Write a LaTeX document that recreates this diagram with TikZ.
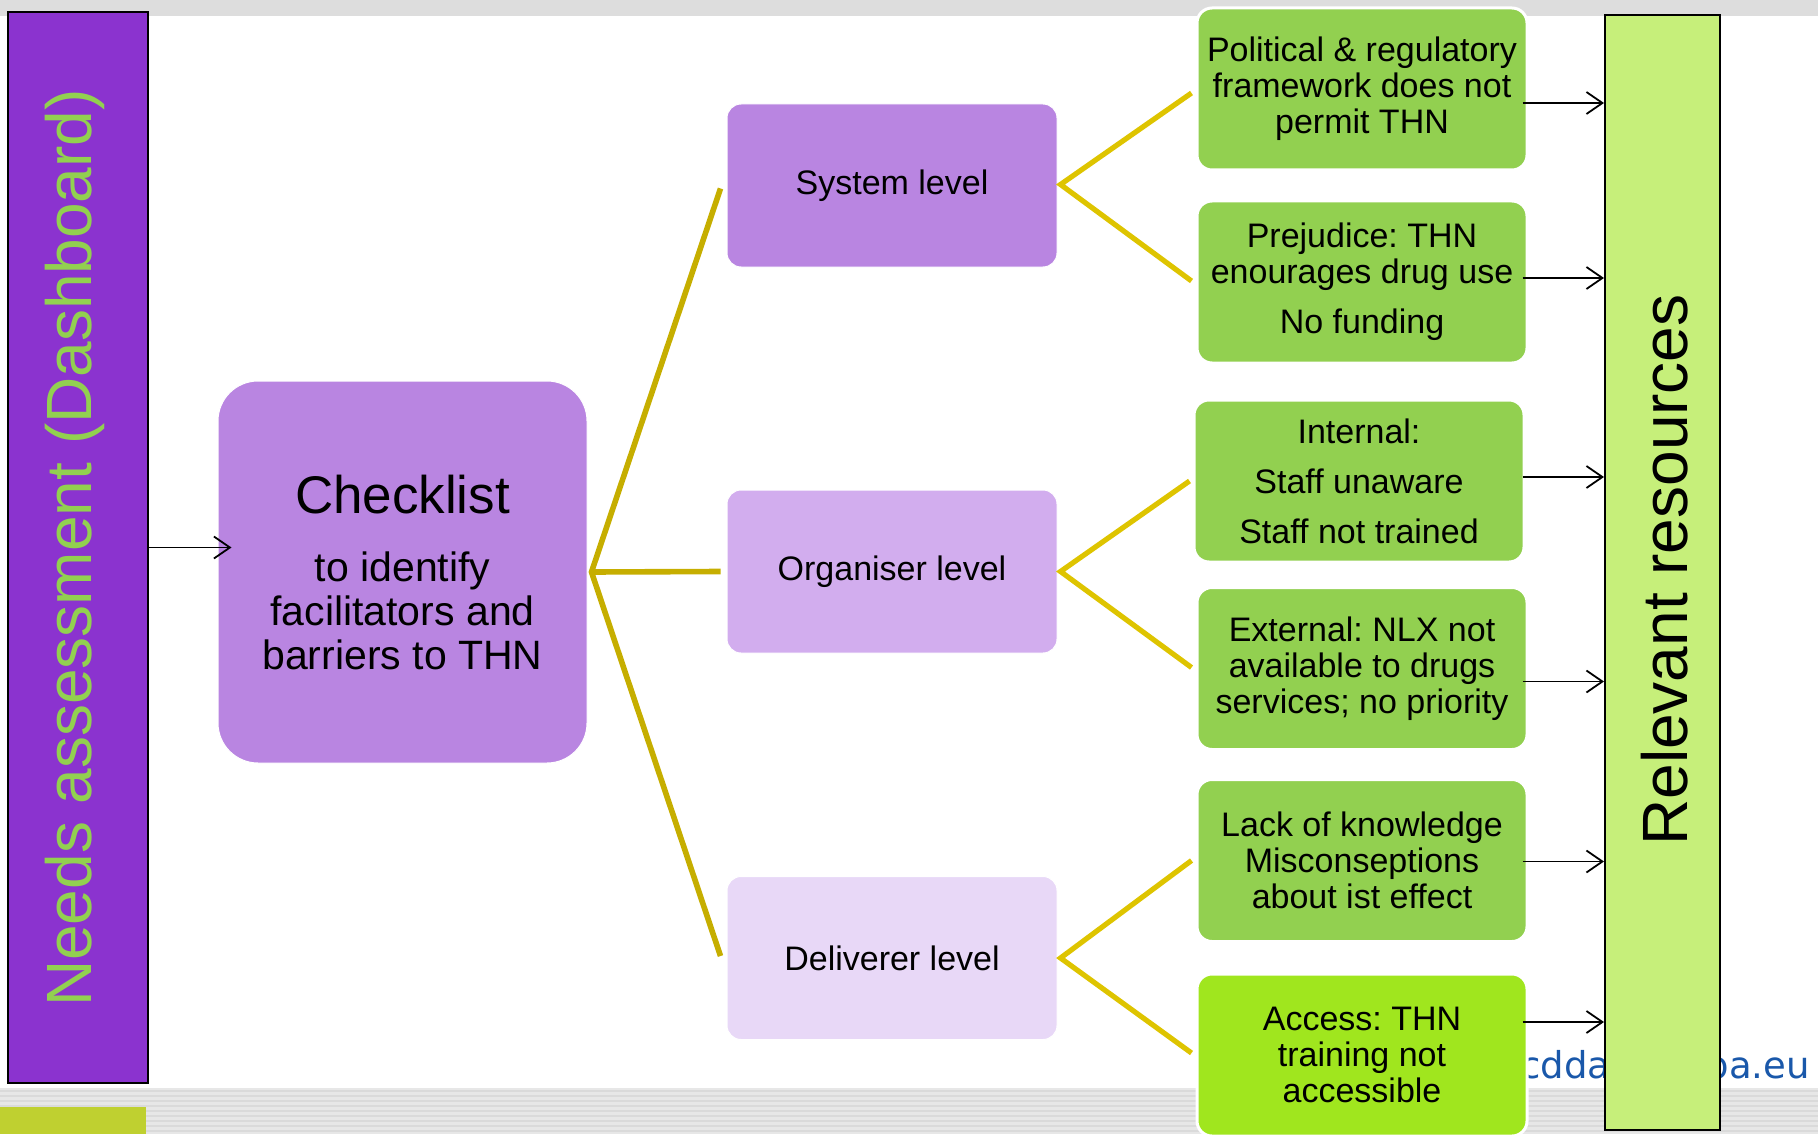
\documentclass[tikz,border=0pt]{standalone}
\usepackage{fontspec}
\setmainfont{Liberation Sans}
\newfontfamily\webfont{DejaVu Sans}
\usetikzlibrary{arrows.meta,calc}

\definecolor{barpurple}{HTML}{8B33CF}
\definecolor{needgreen}{HTML}{92D050}
\definecolor{lvA}{HTML}{B985E1}
\definecolor{lvB}{HTML}{D2ADEE}
\definecolor{lvC}{HTML}{E8D8F7}
\definecolor{boxgreen}{HTML}{92D050}
\definecolor{brightgreen}{HTML}{A0E61E}
\definecolor{resgreen}{HTML}{C6EF7A}
\definecolor{olivetree}{HTML}{C6AE00}
\definecolor{goldtree}{HTML}{DEC400}
\definecolor{webblue}{HTML}{1A58AA}
\definecolor{stripgrey}{HTML}{DDDDDD}
\definecolor{stripA}{HTML}{E7E7E7}
\definecolor{stripB}{HTML}{DADADA}
\definecolor{footyellow}{HTML}{BFD030}
\frenchspacing

\begin{document}
\begin{tikzpicture}[x=0.5pt,y=-0.5pt,
  lvbox/.style={rounded corners=7pt, minimum width=165pt, minimum height=81.5pt,
    draw=white, line width=0.5pt, font=\fontsize{17}{18}\selectfont, inner sep=0pt, align=center},
  gbox/.style={rounded corners=7.5pt, minimum width=165pt, minimum height=81pt,
    fill=boxgreen, draw=white, line width=1.5pt, font=\fontsize{17}{18}\selectfont,
    align=center, inner sep=0pt},
  bar/.style={draw=black, line width=1pt, inner sep=0pt},
  tree/.style={line width=2.8pt, olivetree, line join=miter},
  treeR/.style={line width=2.6pt, goldtree, line join=miter},
  arr/.style={-{Straight Barb[length=8pt,width=11pt]}, line width=0.9pt},
]
\useasboundingbox (0,0) rectangle (1818,1134);
\clip (0,0) rectangle (1818,1134);

% background strips
\fill[stripgrey] (0,0) rectangle (1818,16);
\fill[stripA] (0,1088) rectangle (1818,1134);
\foreach \yy in {1091,1096,...,1134} \draw[stripB, line width=1pt] (0,\yy) -- (1818,\yy);
\fill[footyellow] (0,1107) rectangle (146,1134);

% web address (partly hidden)
\node[anchor=base east, inner sep=0pt, font=\fontsize{18.5}{20}\webfont, text=webblue] (web) at (1810,1078) {www.emcdda.europa.eu};

% side bars
\node[bar, fill=barpurple, minimum width=70pt, minimum height=535.5pt] (needs) at (78,547.5) {};
\node[rotate=90, anchor=base, text=needgreen, font=\fontsize{32}{36}\selectfont, inner sep=0pt] (needstxt) at (91,548) {Needs assessment (Dashboard)};

\node[bar, fill=resgreen, minimum width=57.5pt, minimum height=557.5pt] (res) at (1662.5,572.5) {};
\node[rotate=90, anchor=base, font=\fontsize{32}{36}\selectfont, inner sep=0pt] (restxt) at (1687,570) {Relevant resources};

% checklist
\node[fill=lvA, draw=white, line width=0.5pt, rounded corners=20pt, minimum width=184.5pt,
  minimum height=191pt, inner sep=0pt, align=center, font=\fontsize{20.5}{22}\selectfont]
  (chk) at (402.5,572) {{\fontsize{26.5}{28}\selectfont Checklist}\\[12pt]to identify\\facilitators and\\barriers to THN};

% levels
\node[lvbox, fill=lvA] (sys) at (892,185.5) {System level};
\node[lvbox, fill=lvB] (org) at (892,571.5) {Organiser level};
\node[lvbox, fill=lvC] (del) at (892,958) {Deliverer level};

% green boxes
\node[gbox] (g1) at (1362,89) {Political \& regulatory\\framework does not\\permit THN};
\node[gbox] (g2) at (1362,282) {Prejudice: THN\\enourages drug use\\[7pt]No funding};
\node[gbox] (g3) at (1359,481) {Internal:\\[7pt]Staff unaware\\[7pt]Staff not trained};
\node[gbox] (g4) at (1362,668.5) {External: NLX not\\available to drugs\\services; no priority};
\node[gbox] (g5) at (1362,860.5) {Lack of knowledge\\Misconseptions\\about ist effect};
\node[gbox, fill=brightgreen] (g6) at (1362,1055) {Access: THN\\training not\\accessible};

% tree connectors (left)
\draw[tree] ($(sys.west)+(-6,3)$) -- ($(chk.east)+(4,0)$) -- ($(del.west)+(-6,-2)$);
\draw[tree] ($(chk.east)+(4,0)$) -- ($(org.west)+(-6,0)$);

% tree connectors (right)
\draw[treeR] ($(g1.west)+(-4,4)$) -- ($(sys.east)+(3,-1)$) -- ($(g2.west)+(-4,-1)$);
\draw[treeR] ($(g3.west)+(-3,0)$) -- ($(org.east)+(3,0)$) -- ($(g4.west)+(-4,-1)$);
\draw[treeR] ($(g5.west)+(-4,0)$) -- ($(del.east)+(3,0)$) -- ($(g6.west)+(-4,-2)$);

% arrows
\draw[arr] (needs.east) -- ($(needs.east -| chk.west)+(14,0)$);
\coordinate (a1) at ($(g1.east)+(-6,14)$);
\coordinate (a2) at ($(g2.east)+(-6,-4)$);
\coordinate (a3) at ($(g3.east)+(-3,-4)$);
\coordinate (a4) at ($(g4.east)+(-6,13)$);
\coordinate (a5) at ($(g5.east)+(-6,1)$);
\coordinate (a6) at ($(g6.east)+(-6,-33)$);
\foreach \a in {a1,a2,a3,a4,a5,a6} \draw[arr] (\a) -- (\a -| res.west);
\end{tikzpicture}
\end{document}
